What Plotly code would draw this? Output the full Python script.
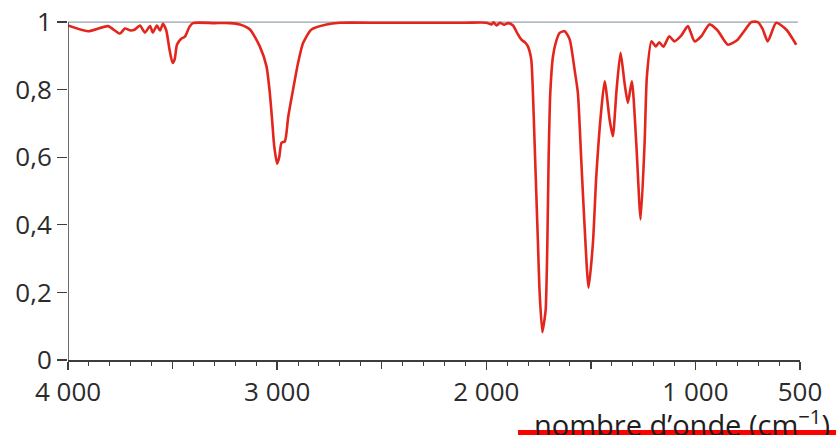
import plotly.graph_objects as go

# Wavenumber (cm^-1) and transmittance
wavenumber = [
    4000, 3904, 3809, 3752, 3728, 3700, 3680, 3656, 3632, 3608, 3594, 3575, 3560, 3546,
    3530, 3515, 3500, 3490, 3479, 3460, 3441, 3420, 3403, 3300, 3226, 3178, 3130, 3083,
    3051, 3035, 3024, 3014, 3000, 2990, 2979, 2963, 2947, 2924, 2900, 2876, 2836, 2764,
    2700, 2500, 2300, 2100, 2000, 1975, 1965, 1950, 1935, 1915, 1895, 1872, 1850, 1832,
    1815, 1801, 1785, 1777, 1769, 1761, 1753, 1745, 1732, 1724, 1716, 1708, 1702, 1694,
    1681, 1665, 1649, 1625, 1601, 1578, 1562, 1546, 1530, 1511, 1490, 1474, 1450, 1434,
    1410, 1395, 1377, 1358, 1339, 1323, 1304, 1283, 1262, 1243, 1232, 1210, 1190, 1173,
    1153, 1125, 1101, 1068, 1036, 1004, 972, 933, 894, 845, 798, 765, 733, 702, 679, 654,
    614, 566, 518,
]
transmittance = [
    0.990, 0.973, 0.988, 0.966, 0.981, 0.975, 0.978, 0.990, 0.969, 0.988, 0.969, 0.990, 0.975, 0.995,
    0.975, 0.920, 0.879, 0.890, 0.933, 0.950, 0.957, 0.985, 0.997, 0.997, 0.997, 0.993, 0.978, 0.928,
    0.869, 0.790, 0.710, 0.633, 0.581, 0.600, 0.643, 0.647, 0.720, 0.800, 0.879, 0.938, 0.978, 0.993,
    0.998, 0.998, 0.998, 0.998, 0.998, 0.993, 0.999, 0.990, 0.998, 0.992, 0.997, 0.990, 0.965, 0.948,
    0.940, 0.928, 0.889, 0.790, 0.643, 0.495, 0.347, 0.200, 0.082, 0.110, 0.149, 0.347, 0.593, 0.790,
    0.899, 0.945, 0.968, 0.973, 0.948, 0.860, 0.790, 0.593, 0.396, 0.214, 0.347, 0.544, 0.741, 0.825,
    0.710, 0.662, 0.800, 0.909, 0.820, 0.761, 0.825, 0.643, 0.416, 0.643, 0.840, 0.943, 0.928, 0.940,
    0.927, 0.958, 0.943, 0.960, 0.988, 0.943, 0.958, 0.993, 0.975, 0.933, 0.948, 0.975, 1.000, 1.000, 0.980, 0.943,
    0.998, 0.978, 0.933,
]

x_tick_vals = [4000, 3000, 2000, 1000, 500]
x_tick_text = ["4 000", "3 000", "2 000", "1 000", "500"]
x_mid_ticks = [3500, 2500, 1500]
y_tick_vals = [0, 0.2, 0.4, 0.6, 0.8, 1]
y_tick_text = ["0", "0,2", "0,4", "0,6", "0,8", "1"]
axis_title = "nombre d’onde (cm<sup>−1</sup>)"

reference_level = 1.0
reference_end = 510

FONT = "Open Sans"
TXT = "#2b2b2b"
AX = "#3d3d3d"

fig = go.Figure()
fig.add_trace(go.Scatter(
    x=wavenumber, y=transmittance, mode="lines",
    line=dict(color="#e3261d", width=2.6, shape="spline", smoothing=0.6),
    hoverinfo="skip", showlegend=False,
))
# empty helper trace so the tick-only overlay axis is drawn
fig.add_trace(go.Scatter(x=[], y=[], xaxis="x2", yaxis="y", mode="lines",
                         hoverinfo="skip", showlegend=False))

fig.update_layout(
    width=836, height=435,
    margin=dict(l=68, r=36, t=17, b=75, autoexpand=False),
    paper_bgcolor="white", plot_bgcolor="white",
    font=dict(family=FONT, size=26, color=TXT),
    showlegend=False,
    xaxis=dict(
        range=[4000, 500], showgrid=False, zeroline=False, automargin=False,
        showline=True, linecolor=AX, linewidth=1.5,
        tickmode="array", tickvals=x_tick_vals, ticktext=x_tick_text,
        ticks="outside", ticklen=8, tickwidth=1.3, tickcolor=AX,
        minor=dict(dtick=100, tick0=0, ticks="outside", ticklen=4, tickwidth=1, tickcolor=AX, showgrid=False),
        tickfont=dict(family=FONT, size=26, color=TXT),
    ),
    xaxis2=dict(
        range=[4000, 500], overlaying="x", anchor="y", side="bottom",
        showgrid=False, zeroline=False, automargin=False, showline=False,
        showticklabels=False, tickmode="array", tickvals=x_mid_ticks,
        ticks="outside", ticklen=8, tickwidth=1.3, tickcolor=AX,
    ),
    yaxis=dict(
        range=[0, 1.015], showgrid=False, zeroline=False, showline=False, automargin=False,
        tickmode="array", tickvals=y_tick_vals, ticktext=y_tick_text,
        ticks="outside", ticklen=10, tickwidth=1.3, tickcolor=AX,
        tickfont=dict(family=FONT, size=26, color=TXT),
    ),
    shapes=[
        dict(type="line", xref="x", yref="y", x0=4000, x1=reference_end,
             y0=reference_level, y1=reference_level,
             line=dict(color="#97a2ad", width=1.2), layer="below"),
        dict(type="line", xref="x", yref="y", x0=4000, x1=4000, y0=0, y1=reference_level,
             line=dict(color=AX, width=1.5), layer="above"),
        dict(type="rect", xref="paper", yref="paper", x0=0.6148, x1=1.06, y0=-0.204, y1=-0.23,
             fillcolor="#ff0000", line=dict(width=0), layer="above"),
    ],
    annotations=[
        dict(text=axis_title, xref="paper", yref="paper", x=1.044, y=-0.118,
             xanchor="right", yanchor="top", showarrow=False,
             font=dict(family=FONT, size=29, color="#1e1e1e")),
    ],
)

fig.write_html(
    "out.html",
    config={"displayModeBar": False, "staticPlot": True},
    post_script="document.body.style.margin='0';document.body.style.overflow='hidden';",
)
